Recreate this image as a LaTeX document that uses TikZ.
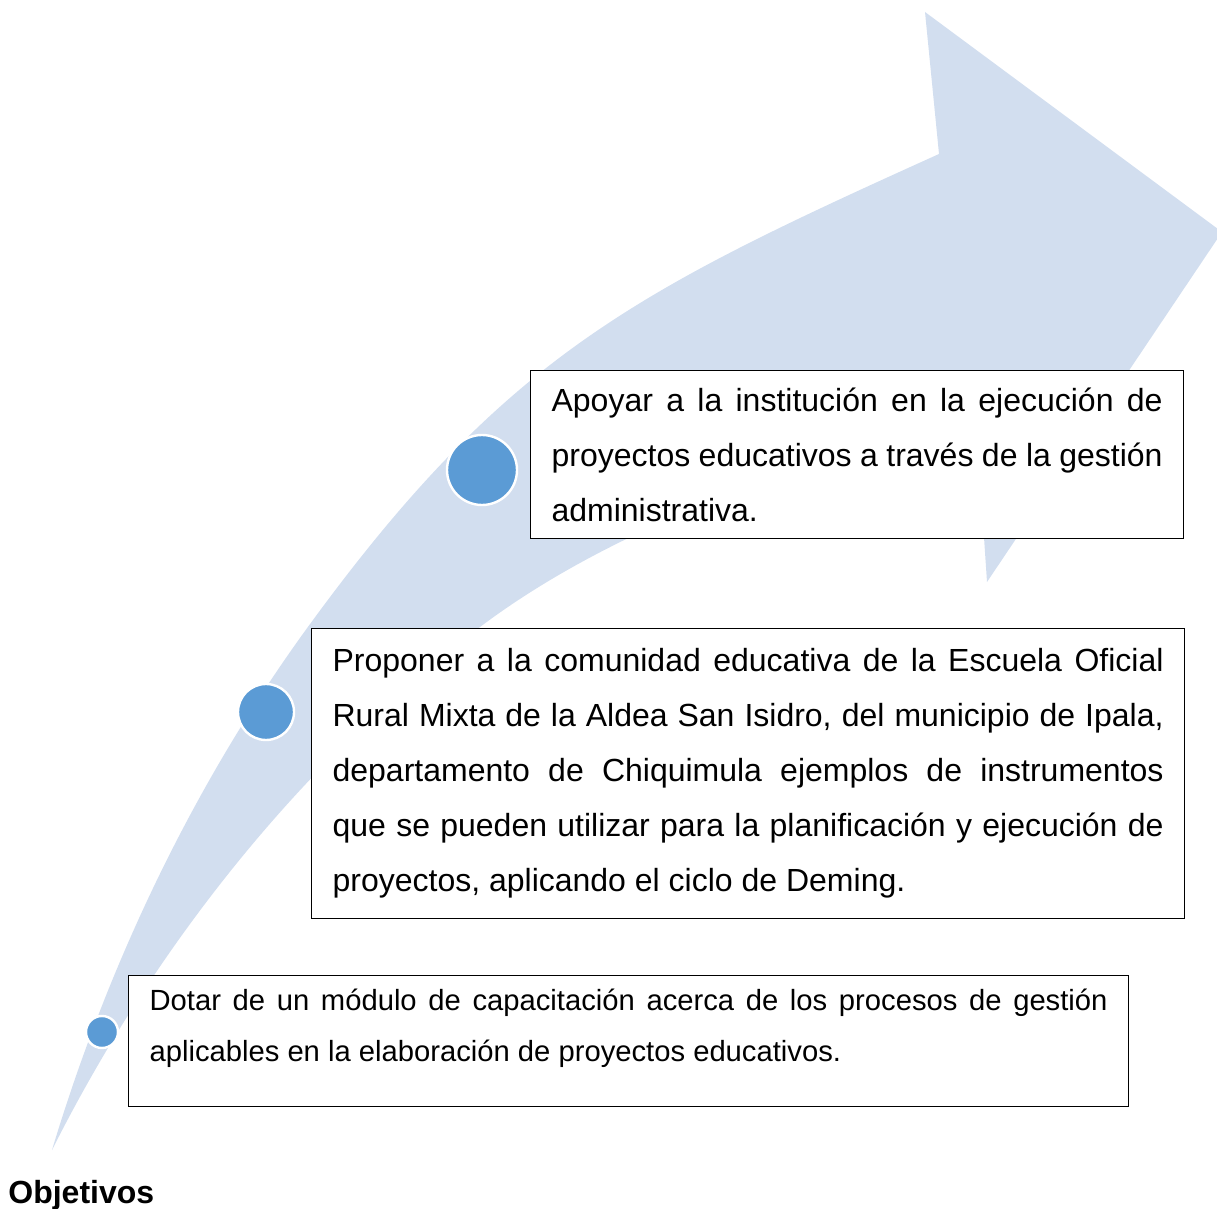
\documentclass[tikz,border=0pt]{standalone}
\usepackage{fontspec}
\setmainfont{Liberation Sans}
\usepackage{tikz}
\usetikzlibrary{positioning,calc}
\definecolor{arrowblue}{HTML}{D2DEEF}
\definecolor{dotblue}{HTML}{5B9BD5}
\hyphenpenalty=10000
\exhyphenpenalty=10000
\tikzset{
  goal/.style={draw=black, line width=0.6pt, fill=white, anchor=north west,
    inner xsep=10.5pt, inner ysep=0pt, align=justify,
    font=\fontsize{16pt}{27.5pt}\selectfont},
  milestone/.style={circle, fill=dotblue, draw=white, line width=1.2pt, inner sep=0pt},
}

\begin{document}
\begin{tikzpicture}[x=0.5pt, y=-0.5pt]
            \useasboundingbox (0,0) rectangle (1217,1209);
            \clip (0,0) rectangle (1217,1209);
            % big curved arrow
            \coordinate (tail) at (52,1150);
            \coordinate (bendup) at (313,620);
            \coordinate (notchup) at (939,154);
            \coordinate (notchlow) at (975,403);
            \coordinate (bendlow) at (480,627);
            \fill[arrowblue] (tail) .. controls (109,961) and (196,779) .. (bendup)
                  .. controls (508,354) and (638,290) .. (notchup)
                  -- (925,12) -- (1222,232) -- (987,582) -- (notchlow)
                  .. controls (806,467) and (625,518) .. (bendlow)
                  .. controls (300,762) and (153,949) .. (tail) -- cycle;
            \node[milestone, minimum size=35pt] (c1) at (482,470) {};
            \node[milestone, minimum size=28pt] (c2) at (266,712) {};
            \node[milestone, minimum size=16pt] (c3) at (102,1032) {};
            \node[goal, text width=305.5pt, minimum height=84pt] (g1) at (530,370)
                  {Apoyar a la institución en la ejecución de\linebreak
                   proyectos educativos a través de la gestión\linebreak
                   administrativa.};
            \node[goal, text width=415.5pt, minimum height=145pt] (g2) at (311,628)
                  {Proponer a la comunidad educativa de la Escuela Oficial\linebreak
                   Rural Mixta de la Aldea San Isidro, del municipio de Ipala,\linebreak
                   departamento de Chiquimula ejemplos de instrumentos\linebreak
                   que se pueden utilizar para la planificación y ejecución de\linebreak
                   proyectos, aplicando el ciclo de Deming.};
            \node[goal, text width=479pt, minimum height=65.5pt,
                  font=\fontsize{14.6pt}{25.5pt}\selectfont] (g3) at (128,975)
                  {Dotar de un módulo de capacitación acerca de los procesos de gestión\linebreak
                   aplicables en la elaboración de proyectos educativos.\rule[-16pt]{0pt}{0pt}};
            \node[anchor=base west, inner sep=0pt,
                  font=\fontsize{16pt}{19pt}\selectfont\bfseries] (title) at (8,1203) {Objetivos};
\end{tikzpicture}
\end{document}
